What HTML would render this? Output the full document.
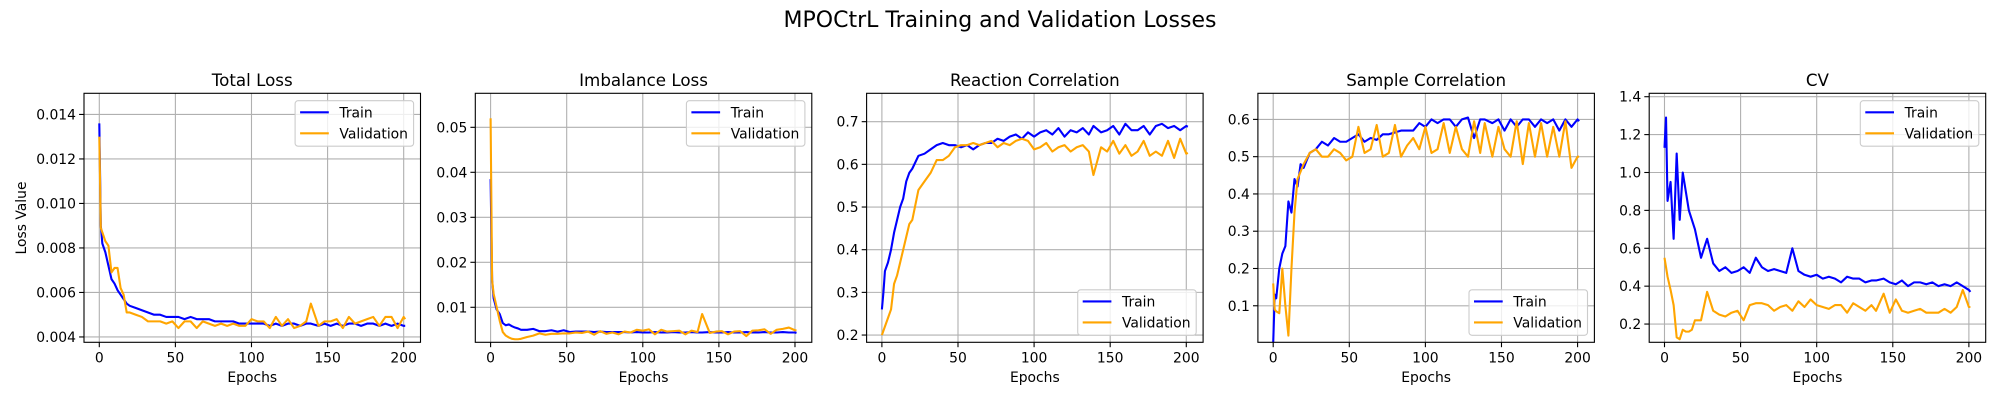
<!DOCTYPE html>
<html><head><meta charset="utf-8"><style>
html,body{margin:0;padding:0;background:#fff;}
svg text{font-family:"DejaVu Sans","Liberation Sans",sans-serif;fill:#000;}
</style></head><body>
<svg id="fig" width="2000" height="400" viewBox="0 0 2000 400" xmlns="http://www.w3.org/2000/svg">
<text x="1000" y="27" font-size="22" text-anchor="middle">MPOCtrL Training and Validation Losses</text>
</svg>
<script>
const epochs=[0,1,2,4,6,8,10,12,14,16,18,20,24,28,32,36,40,44,48,52,56,60,64,68,72,76,80,84,88,92,96,100,104,108,112,116,120,124,128,132,136,139,144,148,152,156,160,164,168,172,176,180,184,188,192,196,200,201];
const totalTrain=[0.0136,0.0090,0.0082,0.0078,0.0072,0.0066,0.0064,0.0061,0.0059,0.0057,0.0055,0.0054,0.0053,0.0052,0.0051,0.0050,0.0050,0.0049,0.0049,0.0049,0.0048,0.0049,0.0048,0.0048,0.0048,0.0047,0.0047,0.0047,0.0047,0.0046,0.0046,0.0046,0.0046,0.0046,0.0045,0.0046,0.0045,0.0046,0.0046,0.0045,0.0046,0.0046,0.0045,0.0046,0.0045,0.0046,0.0045,0.0046,0.0046,0.0045,0.0046,0.0046,0.0045,0.0046,0.0045,0.0046,0.0045,0.0045];
const totalVal=[0.0130,0.0089,0.0087,0.0083,0.0081,0.0069,0.0071,0.0071,0.0062,0.0059,0.0051,0.0051,0.0050,0.0049,0.0047,0.0047,0.0047,0.0046,0.0047,0.0044,0.0047,0.0047,0.0044,0.0047,0.0046,0.0045,0.0046,0.0045,0.0046,0.0045,0.0045,0.0048,0.0047,0.0047,0.0044,0.0049,0.0045,0.0048,0.0044,0.0045,0.0047,0.0055,0.0045,0.0047,0.0047,0.0048,0.0044,0.0049,0.0046,0.0047,0.0048,0.0049,0.0045,0.0049,0.0049,0.0044,0.0049,0.0048];
const imbTrain=[0.0385,0.016,0.012,0.0095,0.0085,0.0065,0.006,0.0062,0.0058,0.0055,0.0053,0.005,0.005,0.0052,0.0047,0.0047,0.0049,0.0046,0.0049,0.0045,0.0046,0.0046,0.0046,0.0045,0.0046,0.0045,0.0045,0.0045,0.0045,0.0044,0.0045,0.0044,0.0044,0.0045,0.0044,0.0044,0.0045,0.0044,0.0044,0.0045,0.0044,0.0044,0.0045,0.0044,0.0044,0.0045,0.0044,0.0044,0.0045,0.0044,0.0044,0.0045,0.0044,0.0044,0.0045,0.0044,0.0044,0.0043];
const imbVal=[0.052,0.016,0.013,0.010,0.007,0.0045,0.0037,0.0033,0.0030,0.0029,0.0029,0.0030,0.0034,0.0037,0.0042,0.0039,0.0041,0.0041,0.0042,0.0042,0.0044,0.0043,0.0046,0.0039,0.0047,0.0041,0.0044,0.0040,0.0046,0.0044,0.0050,0.0048,0.0051,0.0040,0.0050,0.0046,0.0047,0.0048,0.0040,0.0048,0.0045,0.0085,0.0043,0.0046,0.0047,0.0040,0.0046,0.0047,0.0036,0.0048,0.0049,0.0051,0.0041,0.0050,0.0052,0.0055,0.0049,0.0049];
const reacTrain=[0.26,0.30,0.35,0.37,0.40,0.44,0.47,0.50,0.52,0.56,0.58,0.59,0.62,0.625,0.635,0.645,0.65,0.645,0.645,0.64,0.645,0.635,0.645,0.65,0.65,0.66,0.655,0.665,0.67,0.66,0.675,0.665,0.675,0.68,0.67,0.685,0.665,0.68,0.675,0.685,0.67,0.69,0.675,0.68,0.69,0.67,0.695,0.68,0.68,0.69,0.67,0.69,0.695,0.685,0.69,0.68,0.69,0.688];
const reacVal=[0.20,0.21,0.22,0.24,0.26,0.32,0.34,0.37,0.40,0.43,0.46,0.47,0.54,0.56,0.58,0.61,0.61,0.62,0.64,0.645,0.645,0.65,0.645,0.65,0.655,0.64,0.65,0.645,0.655,0.66,0.655,0.635,0.64,0.65,0.63,0.64,0.645,0.63,0.64,0.645,0.63,0.575,0.64,0.63,0.655,0.625,0.645,0.62,0.63,0.655,0.62,0.63,0.62,0.655,0.615,0.66,0.625,0.627];
const sampTrain=[0.0,0.13,0.12,0.2,0.24,0.26,0.38,0.35,0.44,0.42,0.48,0.47,0.51,0.52,0.54,0.53,0.55,0.54,0.54,0.55,0.56,0.54,0.55,0.545,0.56,0.56,0.565,0.57,0.57,0.57,0.59,0.58,0.6,0.59,0.6,0.6,0.58,0.6,0.605,0.55,0.6,0.6,0.59,0.6,0.57,0.6,0.58,0.6,0.6,0.58,0.6,0.59,0.6,0.57,0.6,0.58,0.6,0.595];
const sampVal=[0.16,0.09,0.085,0.08,0.2,0.1,0.02,0.2,0.35,0.44,0.46,0.48,0.51,0.52,0.5,0.5,0.52,0.51,0.49,0.5,0.58,0.51,0.52,0.585,0.5,0.51,0.585,0.5,0.53,0.55,0.52,0.58,0.51,0.52,0.59,0.51,0.58,0.52,0.5,0.595,0.51,0.59,0.5,0.58,0.52,0.5,0.595,0.48,0.59,0.5,0.59,0.5,0.58,0.5,0.595,0.47,0.5,0.5];
const cvTrain=[1.13,1.29,0.85,0.95,0.65,1.1,0.75,1.0,0.9,0.8,0.75,0.7,0.55,0.65,0.52,0.48,0.5,0.47,0.48,0.5,0.47,0.55,0.5,0.48,0.49,0.48,0.47,0.6,0.48,0.46,0.45,0.46,0.44,0.45,0.44,0.42,0.45,0.44,0.44,0.42,0.43,0.43,0.44,0.42,0.41,0.43,0.4,0.42,0.42,0.41,0.42,0.4,0.41,0.4,0.42,0.4,0.38,0.37];
const cvVal=[0.55,0.5,0.45,0.38,0.3,0.13,0.12,0.17,0.16,0.16,0.17,0.22,0.22,0.37,0.27,0.25,0.24,0.26,0.27,0.22,0.3,0.31,0.31,0.3,0.27,0.29,0.3,0.27,0.32,0.29,0.33,0.3,0.29,0.28,0.3,0.3,0.26,0.31,0.29,0.27,0.3,0.27,0.36,0.26,0.33,0.27,0.26,0.27,0.28,0.26,0.26,0.26,0.28,0.26,0.29,0.38,0.29,0.29];
const xTicks=[0,50,100,150,200];
const yTicks1=[0.004,0.006,0.008,0.010,0.012,0.014];
const yLabels1=['0.004','0.006','0.008','0.010','0.012','0.014'];
const yTicks2=[0.01,0.02,0.03,0.04,0.05];
const yLabels2=['0.01','0.02','0.03','0.04','0.05'];
const yTicks3=[0.2,0.3,0.4,0.5,0.6,0.7];
const yLabels3=['0.2','0.3','0.4','0.5','0.6','0.7'];
const yTicks4=[0.1,0.2,0.3,0.4,0.5,0.6];
const yLabels4=['0.1','0.2','0.3','0.4','0.5','0.6'];
const yTicks5=[0.2,0.4,0.6,0.8,1.0,1.2,1.4];
const yLabels5=['0.2','0.4','0.6','0.8','1.0','1.2','1.4'];

const NS='http://www.w3.org/2000/svg';
const svg=document.getElementById('fig');
function mk(tag,attrs,parent){const e=document.createElementNS(NS,tag);for(const k in attrs)e.setAttribute(k,attrs[k]);(parent||svg).appendChild(e);return e;}

const panels=[
 {key:'total-loss',title:'Total Loss',tr:totalTrain,va:totalVal,ymin:0.00376,ymax:0.01495,yt:yTicks1,yl:yLabels1,leg:'top'},
 {key:'imbalance-loss',title:'Imbalance Loss',tr:imbTrain,va:imbVal,ymin:0.00222,ymax:0.05756,yt:yTicks2,yl:yLabels2,leg:'top'},
 {key:'reaction-correlation',title:'Reaction Correlation',tr:reacTrain,va:reacVal,ymin:0.183,ymax:0.7665,yt:yTicks3,yl:yLabels3,leg:'bottom'},
 {key:'sample-correlation',title:'Sample Correlation',tr:sampTrain,va:sampVal,ymin:0.002,ymax:0.67,yt:yTicks4,yl:yLabels4,leg:'bottom'},
 {key:'cv',title:'CV',tr:cvTrain,va:cvVal,ymin:0.1037,ymax:1.418,yt:yTicks5,yl:yLabels5,leg:'top'}
];
const TOP=93.3,BOT=342.3,W=336.5,XMIN=-10.05,XMAX=211.05;
panels.forEach((p,i)=>{
  const L=84+391.3*i;
  const g=mk('g',{});
  
  
  const xs=v=>L+(v-XMIN)/(XMAX-XMIN)*W;
  const ys=v=>BOT-(v-p.ymin)/(p.ymax-p.ymin)*(BOT-TOP);
  const clipId='clip'+i;
  const cp=mk('clipPath',{id:clipId},g);mk('rect',{x:L,y:TOP,width:W,height:BOT-TOP},cp);
  // grid + ticks
  xTicks.forEach(t=>{const x=xs(t);
    const gl=mk('line',{x1:x,x2:x,y1:TOP,y2:BOT,stroke:'#b0b0b0','stroke-width':1.1},g);
    
    mk('line',{x1:x,x2:x,y1:BOT,y2:BOT+4.9,stroke:'#000','stroke-width':1.1},g);
    const tx=mk('text',{x:x,y:BOT+20,'font-size':13.9,'text-anchor':'middle'},g);tx.textContent=t;
    
  });
  p.yt.forEach((t,j)=>{const y=ys(t);
    const gl=mk('line',{x1:L,x2:L+W,y1:y,y2:y,stroke:'#b0b0b0','stroke-width':1.1},g);
    
    mk('line',{x1:L-4.9,x2:L,y1:y,y2:y,stroke:'#000','stroke-width':1.1},g);
    const tx=mk('text',{x:L-8,y:y+5,'font-size':13.9,'text-anchor':'end'},g);tx.textContent=p.yl[j];
    
  });
  // series
  [[p.tr,'#0000ff','train'],[p.va,'#ffa500','validation']].forEach(s=>{
    const d=s[0].map((v,k)=>(k?'L':'M')+xs(epochs[k]).toFixed(2)+' '+ys(v).toFixed(2)).join(' ');
    const pa=mk('path',{d:d,fill:'none',stroke:s[1],'stroke-width':2.1,'stroke-linejoin':'round','clip-path':'url(#'+clipId+')'},g);
    
  });
  const fr=mk('rect',{x:L,y:TOP,width:W,height:BOT-TOP,fill:'none',stroke:'#000','stroke-width':1.1},g);
  
  const ti=mk('text',{x:L+W/2,y:86,'font-size':16.7,'text-anchor':'middle'},g);ti.textContent=p.title;
  
  const xl=mk('text',{x:L+W/2,y:382,'font-size':13.9,'text-anchor':'middle'},g);xl.textContent='Epochs';
  
  // legend
  const lw=118.5,lh=45.5;
  const lx=L+W-lw-6.9;
  const ly=p.leg==='top'?100.7:BOT-lh-7;
  const lg=mk('g',{},g);
  
  mk('rect',{x:lx,y:ly,width:lw,height:lh,rx:3,fill:'#fff','fill-opacity':0.8,stroke:'#cccccc','stroke-width':1.1},lg);
  [['Train','#0000ff',11.6],['Validation','#ffa500',32.6]].forEach(e=>{
    const row=mk('g',{},lg);
    
    mk('line',{x1:lx+5,x2:lx+33.7,y1:ly+e[2],y2:ly+e[2],stroke:e[1],'stroke-width':2.1},row);
    const t=mk('text',{x:lx+44.3,y:ly+e[2]+5,'font-size':13.9},row);t.textContent=e[0];
  });
});
const yl=mk('text',{x:0,y:0,'font-size':13.9,'text-anchor':'middle',transform:'translate(26,218) rotate(-90)'});
yl.textContent='Loss Value';


</script>
</body></html>
